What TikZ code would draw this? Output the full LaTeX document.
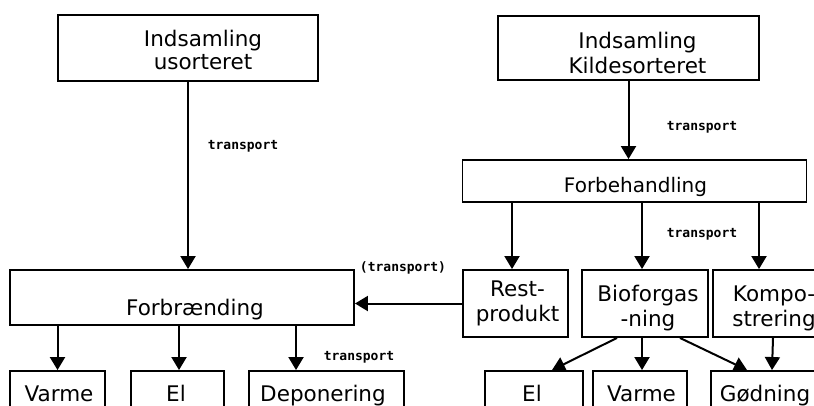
\documentclass[tikz,border=0pt]{standalone}
\usepackage{fontspec}
\setmainfont{DejaVu Sans}
\newfontfamily\lblfont{DejaVu Sans Mono}
\usetikzlibrary{arrows.meta}
\newcommand\bxt[3]{\raisebox{-#2pt}[0pt][0pt]{\makebox[0pt]{\hspace*{#1pt}\begin{tabular}[t]{@{}c@{}}#3\end{tabular}}}}
\begin{document}
\begin{tikzpicture}[x=1pt,y=-1pt,
  box/.style={draw, line width=1.9pt, inner sep=0pt, font=\fontsize{21.5}{25}\selectfont},
  lbl/.style={inner sep=0pt, font=\lblfont\bfseries\fontsize{13}{15}\selectfont},
  arr/.style={line width=2pt, -{Triangle[length=13pt,width=15pt]}}]
\useasboundingbox (0,0) rectangle (814,405);
\clip (0,0) rectangle (814,405);
% top boxes
\node[box, minimum width=260pt, minimum height=66pt, font=\fontsize{21.5}{23}\selectfont] (usort) at (188,48) {\bxt{30}{-2}{Indsamling\\usorteret}};
\node[box, minimum width=261pt, minimum height=64pt] (kilde) at (628.5,48) {\bxt{18}{0}{Indsamling\\Kildesorteret}};
\node[box, minimum width=344pt, minimum height=42pt, font=\fontsize{20}{25}\selectfont] (forbeh) at (634.5,181) {\bxt{2}{11}{Forbehandling}};
\node[box, minimum width=344pt, minimum height=55pt] (forbr) at (182,297.5) {\bxt{26}{17.5}{Forbrænding}};
\node[box, minimum width=105pt, minimum height=67pt] (rest) at (515.5,303.5) {\bxt{4}{-7.5}{Rest-\\produkt}};
\node[box, minimum width=126pt, minimum height=67pt] (bio) at (645,303.5) {\bxt{6}{-2.5}{Bioforgas\\-ning}};
\node[box, minimum width=126pt, minimum height=67pt] (kompo) at (776,303.5) {\bxt{-4}{-2.5}{Kompo-\\strering}};
% bottom boxes
\node[box, minimum width=95pt, minimum height=59pt] (varme1) at (57.5,400.5) {\bxt{3}{0.5}{Varme}};
\node[box, minimum width=93pt, minimum height=59pt] (el1) at (177.5,400.5) {\bxt{-3}{0.5}{El}};
\node[box, minimum width=155pt, minimum height=59pt] (depon) at (326.5,400.5) {\bxt{-7}{0.5}{Deponering}};
\node[box, minimum width=98pt, minimum height=59pt] (el2) at (534,400.5) {\bxt{-4}{0.5}{El}};
\node[box, minimum width=94pt, minimum height=59pt] (varme2) at (640,400.5) {\bxt{3}{0.5}{Varme}};
\node[box, minimum width=114pt, minimum height=59pt] (godn) at (768,400.5) {\bxt{-6}{0.5}{Gødning}};
% labels
\node[lbl] (t1) at (243,146) {transport};
\node[lbl] (t2) at (702,127) {transport};
\node[lbl] (t3) at (702,234) {transport};
\node[lbl] (t4) at (403,268) {(transport)};
\node[lbl] (t5) at (359,357) {transport};
% arrows
\draw[arr] (usort.south) -- (usort.south |- forbr.north);
\draw[arr] (kilde.south) -- (kilde.south |- forbeh.north);
\draw[arr] ([xshift=-3.5pt]rest.north |- forbeh.south) -- ([xshift=-3.5pt]rest.north);
\draw[arr] ([xshift=-3pt]bio.north |- forbeh.south) -- ([xshift=-3pt]bio.north);
\draw[arr] ([xshift=-17pt]kompo.north |- forbeh.south) -- ([xshift=-17pt]kompo.north);
\draw[arr] (rest.west) -- (rest.west -| forbr.east);
\draw[arr] (varme1.north |- forbr.south) -- (varme1.north);
\draw[arr] ([xshift=1.5pt]el1.north |- forbr.south) -- ([xshift=1.5pt]el1.north);
\draw[arr] ([xshift=-30.5pt]depon.north |- forbr.south) -- ([xshift=-30.5pt]depon.north);
\draw[arr] ([xshift=-28pt]bio.south) -- ([xshift=18pt]el2.north);
\draw[arr] ([xshift=-3pt]bio.south) -- ([xshift=2pt]varme2.north);
\draw[arr] ([xshift=35pt]bio.south) -- ([xshift=-21pt]godn.north);
\draw[arr] ([xshift=-3pt]kompo.south) -- ([xshift=4pt]godn.north);
\end{tikzpicture}
\end{document}
